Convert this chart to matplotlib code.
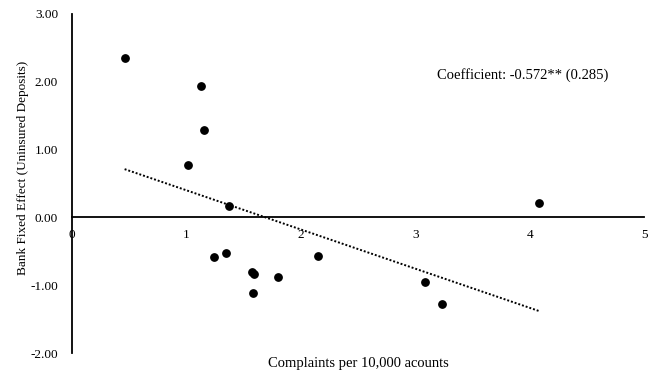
import numpy as np
import matplotlib
matplotlib.use('Agg')
import matplotlib.pyplot as plt

plt.rcParams['font.family'] = ['Liberation Serif', 'DejaVu Serif']

# complaints per 10,000 accounts vs bank fixed effect
complaints = [0.46, 1.13, 1.15, 1.01, 1.37, 1.24, 1.35, 1.57, 1.59, 1.58, 1.80, 2.15, 3.09, 3.23, 4.08]
fixed_eff = [2.35, 1.94, 1.29, 0.78, 0.17, -0.59, -0.52, -0.81, -0.83, -1.12, -0.88, -0.57, -0.96, -1.28, 0.21]
x_ticks = [0, 1, 2, 3, 4, 5]
y_ticks = [-2, -1, 0, 1, 2, 3]

fig = plt.figure(figsize=(6.62, 3.75), dpi=100)
ax = fig.add_axes([72/662, 22/375, 572/662, 339/375])

ax.scatter(complaints, fixed_eff, s=28, color='black', zorder=3)

# linear trendline over data range
b, a = np.polyfit(complaints, fixed_eff, 1)
xs = np.array([min(complaints), max(complaints)])
ax.plot(xs, a + b * xs, color='black', linestyle=(0, (1, 1)), lw=1.4)

ax.set_xlim(0, 5)
ax.set_ylim(-2, 3)
ax.set_xticks(x_ticks)
ax.set_yticks(y_ticks)
ax.set_yticklabels(['%.2f' % v for v in y_ticks])
ax.tick_params(axis='both', length=0, labelsize=9.5)
ax.tick_params(axis='y', pad=10)
ax.tick_params(axis='x', pad=8)

ax.spines['top'].set_visible(False)
ax.spines['right'].set_visible(False)
ax.spines['bottom'].set_position(('data', 0))
ax.spines['left'].set_linewidth(1.3)
ax.spines['bottom'].set_linewidth(1.3)

fig.text(23/662, 1 - 168/375, 'Bank Fixed Effect (Uninsured Deposits)', fontsize=9.5,
         rotation=90, ha='center', va='center')
fig.text(358/662, 1 - 363/375, 'Complaints per 10,000 acounts', fontsize=10.5,
         ha='center', va='center')
ax.text(3.19, 2.1, 'Coefficient: -0.572** (0.285)', fontsize=10.5, ha='left', va='center')

fig.savefig('out.png', dpi=100)
